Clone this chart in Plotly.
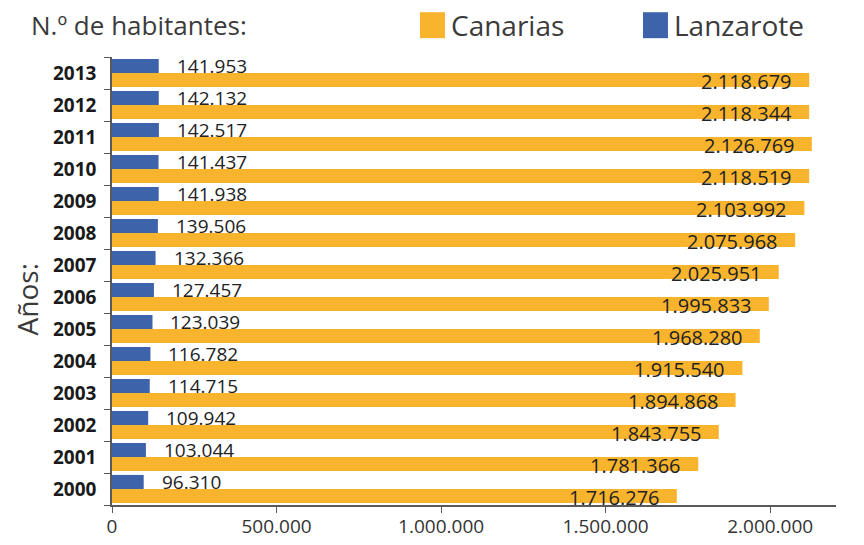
import plotly.graph_objects as go

YEARS = ["2000", "2001", "2002", "2003", "2004", "2005", "2006",
         "2007", "2008", "2009", "2010", "2011", "2012", "2013"]
LANZAROTE = [96310, 103044, 109942, 114715, 116782, 123039, 127457,
             132366, 139506, 141938, 141437, 142517, 142132, 141953]
CANARIAS = [1716276, 1781366, 1843755, 1894868, 1915540, 1968280, 1995833,
            2025951, 2075968, 2103992, 2118519, 2126769, 2118344, 2118679]
X_TICKS = [0, 500000, 1000000, 1500000, 2000000]

COLORS = {
    "canarias": "#F9B42D",
    "lanzarote": "#3D64AA",
    "text": "#3B3B3B",
    "axis": "#595959",
}
FONT = "Open Sans, Liberation Sans, sans-serif"


def fmt(v):
    return f"{v:,}".replace(",", ".")


fig = go.Figure()
fig.add_trace(go.Bar(
    y=YEARS, x=CANARIAS, orientation="h", name="Canarias",
    marker=dict(color=COLORS["canarias"], line=dict(width=0)),
))
fig.add_trace(go.Bar(
    y=YEARS, x=LANZAROTE, orientation="h", name="Lanzarote",
    marker=dict(color=COLORS["lanzarote"], line=dict(width=0)),
))

# value labels (y given as category index: numeric-looking strings would be read as indices)
for i, (lz, cn) in enumerate(zip(LANZAROTE, CANARIAS)):
    fig.add_annotation(x=lz, y=i, text=fmt(lz), showarrow=False,
                       xanchor="left", yshift=7, xshift=16,
                       font=dict(size=19, color="#222222", family=FONT))
    fig.add_annotation(x=cn, y=i, text=fmt(cn), showarrow=False,
                       xanchor="right", yshift=-8, xshift=-15,
                       font=dict(size=20, color="#222222", family=FONT))

# header / legend
fig.add_annotation(xref="paper", yref="paper", x=-0.115, y=1.071,
                   xanchor="left", yanchor="middle", showarrow=False,
                   text="N.º de habitantes:",
                   font=dict(size=26, color=COLORS["text"], family=FONT))
for name, color, x0 in [("Canarias", COLORS["canarias"], 0.4254),
                        ("Lanzarote", COLORS["lanzarote"], 0.7334)]:
    fig.add_shape(type="rect", xref="paper", yref="paper",
                  x0=x0, x1=x0 + 0.0345, y0=1.042, y1=1.100,
                  fillcolor=color, line=dict(width=0))
    fig.add_annotation(xref="paper", yref="paper", x=x0 + 0.040, y=1.071,
                       xanchor="left", yanchor="middle", showarrow=False,
                       text=name,
                       font=dict(size=28, color=COLORS["text"], family=FONT))

fig.add_annotation(xref="paper", yref="paper", x=-0.118, y=0.458,
                   xanchor="center", yanchor="middle",
                   textangle=-90, showarrow=False, text="Años:",
                   font=dict(size=28, color=COLORS["text"], family=FONT))

fig.update_layout(
    barmode="group", bargap=0.12, bargroupgap=0,
    width=864, height=545,
    margin=dict(l=112, r=28, t=57, b=40),
    paper_bgcolor="white", plot_bgcolor="white",
    separators=",.",
    showlegend=False,
    font=dict(family=FONT, color=COLORS["text"]),
)
fig.update_xaxes(
    range=[0, 2200000], tickvals=X_TICKS, tickformat=",d",
    showgrid=False, zeroline=False, automargin=False,
    showline=True, linecolor=COLORS["axis"], linewidth=1.5,
    ticks="outside", ticklen=6, tickcolor=COLORS["axis"],
    ticklabelstandoff=-3,
    tickfont=dict(size=19, color="#333333", family=FONT),
)
fig.update_yaxes(
    type="category", range=[-0.5, len(YEARS) - 0.5],
    showgrid=False, zeroline=False, automargin=False,
    showline=True, linecolor=COLORS["axis"], linewidth=1.5,
    ticks="outside", ticklen=6, tickcolor=COLORS["axis"], tickson="boundaries",
    ticklabelstandoff=10,
    tickfont=dict(size=19, color="#1A1A1A", family="Open Sans, sans-serif", weight="bold"),
)

# the page body has an 8px default margin; drop it so the figure sits at 0,0
fig.write_html("out.html", config={"displayModeBar": False},
               post_script="document.body.style.margin = '0';")
